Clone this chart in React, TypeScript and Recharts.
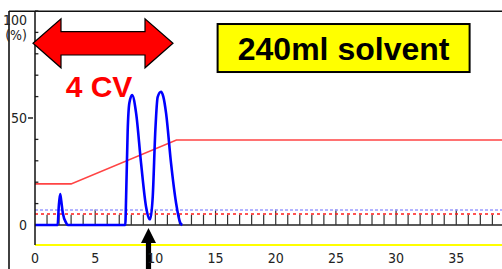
import React from 'react';
import { LineChart, Line, XAxis, YAxis, ReferenceLine, ReferenceDot } from 'recharts';

// ---- data ----
const timeTicks = [0, 5, 10, 15, 20, 25, 30, 35];
const minuteMarks = [1, 2, 3, 4, 5, 6, 7, 8, 9, 10, 11, 12, 13, 14, 15, 16, 17, 18, 19, 20, 21, 22, 23, 24, 25, 26, 27, 28, 29, 30, 31, 32, 33, 34, 35, 36, 37, 38];
const majorMarks = [5, 10, 15, 20, 25, 30, 35];
const pctTicks = [0, 50, 100];
const pctMinorTicks = [10, 20, 30, 40, 60, 70, 80, 90, 100];

const uvTime = [0, 1.88, 1.98, 2.09, 2.17, 2.31, 2.59, 2.72, 7.5, 7.57, 7.7, 7.84, 8.07, 8.4, 8.81, 9.23, 9.5, 9.57, 9.78, 10.0, 10.19, 10.47, 10.66, 10.89, 11.3, 11.72, 12.07, 12.24];
const uvValue = [0, 0, 9, 14.5, 11.7, 5.6, 1, 0, 0, 13, 44, 57, 60.7, 52.3, 29, 8.4, 2.8, 2.7, 13, 44.4, 59.8, 62.3, 60, 52.3, 29, 10.3, 1, 0];

const gradTime = [0, 3.0, 11.75, 38.8];
const gradValue = [19.2, 19.2, 39.7, 39.7];

const baseTime = [0, 38.8];
const baseValue = [0, 0];

const thresholdUpper = 7.0;
const thresholdLower = 5.1;

const arrowAt = { t: 9.43, v: -1.4 };
const cvArrowAt = { t: 5.65, v: 84.9 };
const boxAt = { t: 25.64, v: 82.7 };

const cvLabel = '4 CV';
const boxLabel = '240ml solvent';

const uvData = uvTime.map((t, i) => ({ t, v: uvValue[i] }));
const gradData = gradTime.map((t, i) => ({ t, v: gradValue[i] }));
const baseData = baseTime.map((t, i) => ({ t, v: baseValue[i] }));

const labelFont = "'Liberation Sans Narrow', 'DejaVu Sans Condensed', 'Liberation Sans', sans-serif";

const YTick = (props: any) => {
  const { x, y, payload } = props;
  if (payload.value === 100) {
    return (
      <g>
        <text x={x} y={y + 14} textAnchor="end" fontFamily={labelFont} fontSize={14} fill="#222">100</text>
        <text x={x} y={y + 29} textAnchor="end" fontFamily={labelFont} fontSize={14} fill="#222">(%)</text>
      </g>
    );
  }
  return (
    <g>
      {payload.value === 50 && <line x1={x + 1} x2={x + 6} y1={y} y2={y} stroke="#222" strokeWidth={1.5} />}
      <text x={x} y={y + 5} textAnchor="end" fontFamily={labelFont} fontSize={14} fill="#222">{payload.value}</text>
    </g>
  );
};

const XTick = (props: any) => {
  const { x, y, payload } = props;
  return (
    <text x={x} y={y + 10} textAnchor="middle" fontFamily={labelFont} fontSize={14} fill="#222">{payload.value}</text>
  );
};

const UpArrow = (props: any) => {
  const { cx, cy } = props;
  const pts = [
    [cx, cy], [cx + 7.5, cy + 15], [cx + 2.6, cy + 15], [cx + 2.6, cy + 45],
    [cx - 2.6, cy + 45], [cx - 2.6, cy + 15], [cx - 7.5, cy + 15],
  ].map((p) => p.join(',')).join(' ');
  return <polygon points={pts} fill="#000" />;
};

const DoubleArrow = (props: any) => {
  const { cx, cy } = props;
  const L = 70, H = 42, HH = 24.5, SH = 11.7;
  const pts = [
    [cx - L, cy], [cx - H, cy - HH], [cx - H, cy - SH], [cx + H, cy - SH], [cx + H, cy - HH],
    [cx + L, cy], [cx + H, cy + HH], [cx + H, cy + SH], [cx - H, cy + SH], [cx - H, cy + HH],
  ].map((p) => p.join(',')).join(' ');
  return (
    <g>
      <polygon points={pts} fill="#ff0000" stroke="#000" strokeWidth={1.2} strokeLinejoin="miter" />
      <text x={cx - 4} y={cy + 54} textAnchor="middle" fontFamily="'Liberation Sans', Arial, sans-serif" fontWeight="bold" fontSize={30} fill="#ff0000">{cvLabel}</text>
    </g>
  );
};

const YellowBox = (props: any) => {
  const { cx, cy } = props;
  return (
    <g>
      <rect x={cx - 126} y={cy - 24} width={252} height={48} fill="#ffff00" stroke="#000" strokeWidth={2} />
      <text x={cx} y={cy + 11.5} textAnchor="middle" fontFamily="'Liberation Sans', Arial, sans-serif" fontWeight="bold" fontSize={32} fill="#000">{boxLabel}</text>
    </g>
  );
};

export default function App() {
  return (
    <div style={{ position: 'absolute', left: 0, top: 0, width: 502, height: 269, background: '#fff', overflow: 'hidden' }}>
      <svg width={502} height={269} style={{ position: 'absolute', left: 0, top: 0 }}>
        <line x1={9} x2={502} y1={11.2} y2={11.2} stroke="#111" strokeWidth={1.6} />
        <line x1={9} x2={9} y1={11} y2={269} stroke="#111" strokeWidth={1.6} />
      </svg>
      <div style={{ position: 'absolute', left: 0, top: 0 }}>
        <LineChart width={502} height={269} margin={{ top: 11, right: 0, left: 0, bottom: 0 }}>
          <XAxis
            dataKey="t"
            type="number"
            domain={[0, 38.8]}
            ticks={timeTicks}
            allowDataOverflow
            axisLine={{ stroke: '#ffff00', strokeWidth: 2 }}
            tickLine={false}
            tick={<XTick />}
            height={24}
            interval={0}
          />
          <YAxis
            type="number"
            domain={[-9.35, 100]}
            ticks={pctTicks}
            allowDataOverflow
            width={35}
            axisLine={{ stroke: '#111', strokeWidth: 1.5 }}
            tickLine={false}
            tick={<YTick />}
            interval={0}
          />
          {pctMinorTicks.map((p) => (
            <ReferenceLine key={'yt' + p} segment={[{ x: 0, y: p }, { x: 0.28, y: p }]} stroke="#222" strokeWidth={1.3} />
          ))}
          <Line data={baseData} dataKey="v" type="linear" stroke="#222" strokeWidth={1.5} dot={false} isAnimationActive={false} />
          {minuteMarks.map((m) => (
            <ReferenceLine
              key={'xt' + m}
              segment={[{ x: m, y: 0 }, { x: m, y: majorMarks.includes(m) ? 7.2 : 4.8 }]}
              stroke="#333"
              strokeWidth={1.2}
            />
          ))}
          <ReferenceLine y={thresholdUpper} stroke="#9a9aff" strokeWidth={1.5} strokeDasharray="3 2" />
          <ReferenceLine y={thresholdLower} stroke="#ff1a1a" strokeWidth={1.5} strokeDasharray="3 3" />
          <Line data={gradData} dataKey="v" type="linear" stroke="#ff4444" strokeWidth={1.6} dot={false} isAnimationActive={false} />
          <Line data={uvData} dataKey="v" type="monotone" stroke="#0000ff" strokeWidth={2.6} dot={false} isAnimationActive={false} />
          <ReferenceDot x={arrowAt.t} y={arrowAt.v} shape={<UpArrow />} />
          <ReferenceDot x={cvArrowAt.t} y={cvArrowAt.v} shape={<DoubleArrow />} />
          <ReferenceDot x={boxAt.t} y={boxAt.v} shape={<YellowBox />} />
        </LineChart>
      </div>
    </div>
  );
}
